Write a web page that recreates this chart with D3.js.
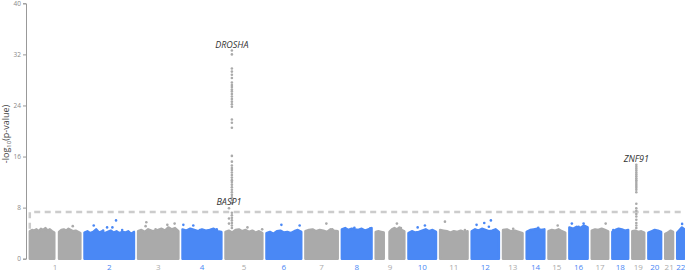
<!DOCTYPE html>
<html>
<head>
<meta charset="utf-8">
<script src="https://cdn.jsdelivr.net/npm/d3@7"></script>
<style>
  body { margin: 0; background: #fff; font-family: "Open Sans", sans-serif; }
</style>
</head>
<body>
<div id="chart"></div>
<script>
// chromosome extents (Mb)
const chrNames = ["1","2","3","4","5","6","7","8","9","10","11","12","13","14","15","16","17","18","19","20","21","22"];
const chrStart = [0.7, 0, 0, 0, 0, 0, 0, 0, 0.2, 0.1, 0.2, 0.1, 19, 20, 20, 0.1, 0, 0, 0.2, 0.1, 9.4, 16];
const chrEnd   = [249, 243, 198, 191, 181, 171, 159, 146, 141, 135.5, 135, 134, 115, 107, 102.5, 90, 81, 78, 59, 63, 48, 51];

// centromere gaps with no SNPs
const gapChr  = [1, 9];
const gapFrom = [121, 40];
const gapTo   = [144, 68];

// top of the dense point cloud, one list per segment (in order)
const bandTop = [
  [4.3,4.5,4.4,4.6,4.3,4.7,4.5,4.8,4.4,4.6,4.3,4.1],       // 1a
  [4.2,4.5,4.6,4.4,4.7,4.5,4.3,4.4,4.2,4.0],               // 1b
  [4.1,4.3,4.0,4.2,4.6,4.1,4.3,4.0,4.2,4.4,4.1,4.3,4.0,4.2,4.1,4.3,3.9,4.2], // 2
  [4.3,4.5,4.2,4.6,4.4,4.3,4.5,4.7,4.4,4.9,4.6,4.8,4.3],   // 3
  [4.6,4.4,4.7,4.5,4.3,4.6,4.4,4.5,4.7,4.3,4.2],           // 4
  [4.2,4.4,4.1,4.5,4.6,4.3,4.5,4.2,4.4,4.1,4.3,4.0],       // 5
  [4.0,4.2,3.9,4.3,4.4,4.1,4.2,4.0,4.3,4.5,4.2],           // 6
  [4.3,4.5,4.6,4.3,4.5,4.4,4.2,4.6,4.4,4.3],               // 7
  [4.6,4.8,4.5,4.7,4.6,4.5,4.7,4.4,4.6,4.8],               // 8
  [4.2,4.3,4.2,4.1],                                       // 9a
  [4.2,4.6,4.8,4.6,4.9,4.5,4.3],                           // 9b
  [4.0,4.3,4.1,4.2,4.4,4.6,4.3,4.5,4.2],                   // 10
  [4.5,4.4,4.3,4.1,4.3,4.2,4.4,4.2,4.3],                   // 11
  [4.3,4.6,4.4,4.7,4.5,4.3,4.4,4.6,4.2],                   // 12
  [4.5,4.6,4.3,4.4,4.2,4.0],                               // 13
  [4.2,4.5,4.6,4.7,4.5,4.6],                               // 14
  [4.3,4.5,4.4,4.6,4.3,4.1],                               // 15
  [4.9,4.7,5.0,4.8,5.2,4.9],                               // 16
  [4.4,4.6,4.5,4.7,4.5,4.3],                               // 17
  [4.2,4.5,4.7,4.6,4.4,4.5],                               // 18
  [4.3,4.4,4.2,4.3,4.1],                                   // 19
  [4.1,4.3,4.5,4.4,4.2],                                   // 20
  [3.9,4.1,4.4,4.2],                                       // 21
  [4.1,4.5,4.9,4.6]                                        // 22
];

// scattered points above the cloud
const ptChr = [1, 2,2,2,2,2,2, 3,3,3,3,3, 4,4,4,4, 5,5, 6,6, 7,7, 8,8, 9,9, 10,10, 11,11, 12,12,12,12, 13, 14, 15, 16,16,16,16, 17, 18, 22];
const ptPos = [211.5, 45.4,155,111,137,185,91.5, 40.5,37,143.6,179.4,86, 4.2,53,168,86, 107.8,180, 73.4,163, 103,132, 140,61.6, 104.5,124, 81,45.4, 24,122, 94.5,62,84.7,24.3, 69, 77, 65.4, 12.5,70,86,45.4, 68.5, 4.7, 40.3];
const ptVal = [5.1, 5.2,6.0,4.9,4.9,4.5,4.4, 5.7,5.1,5.3,5.5,4.6, 5.3,5.2,4.6,4.5, 4.9,4.6, 5.3,5.2, 5.5,4.6, 4.75,4.85, 5.5,4.8, 5.2,4.9, 5.8,4.5, 6.0,5.6,5.0,5.3, 4.7, 4.85, 5.2, 5.5,5.5,4.8,5.0, 5.5, 4.5, 5.45];

// association peaks
const droshaVals = [32.6,32.0,29.8,29.3,28.8,28.3,27.6,27.2,26.9,26.5,26.2,25.8,25.4,25.0,24.6,24.2,23.8,21.8,21.3,20.5,16.1,15.2,14.6,14.2,13.9,13.5,13.1,12.7,12.3,12.0,11.6,11.2,10.8,10.4,10.0,9.6,9.2,8.7,7.2,6.8,6.4,6.0,5.6,5.2,4.8];
const basp1Vals  = [7.9, 6.3, 5.5];
const znf91Vals  = [14.7,14.4,14.1,13.8,13.5,13.2,12.9,12.6,12.3,12.0,11.7,11.4,11.1,10.8,10.4,8.6,7.9,7.5,7.0,6.6,6.1,5.6,5.2,4.8];

const geneNames = ["DROSHA", "BASP1", "ZNF91"];
const geneChr   = [5, 5, 19];
const genePos   = [31.4, 17.2, 20];
const geneTop   = [32.6, 7.9, 14.7];

const threshold = 7.3;
const yTicks = [0, 8, 16, 24, 32, 40];

const GAP = 20;
const grey = "#aaaaaa", blue = "#4a88f5";
const colorOf = c => (c % 2 === 1 ? grey : blue);

// cumulative offsets
const offset = [];
let acc = 0;
chrNames.forEach((n, i) => {
  offset.push(acc - chrStart[i]);
  acc += chrEnd[i] - chrStart[i] + GAP;
});
const total = acc - GAP;
const gpos = (chr, pos) => offset[chr - 1] + pos;

const width = 685, height = 271;
const svg = d3.select("#chart").append("svg")
  .attr("width", width).attr("height", height);

const x = d3.scaleLinear().domain([0, total]).range([29.8, 684.3]);
const y = d3.scaleLinear().domain([0, 40]).range([258.7, 3.3]);

// segments
const segments = [];
chrNames.forEach((n, i) => {
  const c = i + 1;
  const g = gapChr.indexOf(c);
  if (g >= 0) {
    segments.push({chr: c, start: chrStart[i], end: gapFrom[g]});
    segments.push({chr: c, start: gapTo[g], end: chrEnd[i]});
  } else {
    segments.push({chr: c, start: chrStart[i], end: chrEnd[i]});
  }
});

const area = d3.area()
  .x(d => x(d.g))
  .y0(y(0))
  .y1(d => y(d.v));

segments.forEach((s, k) => {
  const top = bandTop[k];
  const pts = top.map((v, i) => ({
    g: gpos(s.chr, s.start + i * (s.end - s.start) / (top.length - 1)),
    v: v
  }));
  svg.append("path")
    .attr("d", area(pts))
    .attr("fill", colorOf(s.chr))
    .attr("stroke", colorOf(s.chr))
    .attr("stroke-width", 2.4)
    .attr("stroke-linejoin", "round");
});

// threshold line
const thr = [
  {g: gpos(1, chrStart[0]), v: 4.7},
  {g: gpos(1, chrStart[0]), v: threshold},
  {g: gpos(22, chrEnd[21]), v: threshold}
];
svg.append("path")
  .attr("d", d3.line().x(d => x(d.g)).y(d => y(d.v))(thr))
  .attr("fill", "none")
  .attr("stroke", "#cccccc")
  .attr("stroke-width", 2.5)
  .attr("stroke-dasharray", "6,4.5");

// points
const points = ptChr.map((c, i) => ({chr: c, pos: ptPos[i], v: ptVal[i]}))
  .concat(droshaVals.map(v => ({chr: 5, pos: 31.4, v})))
  .concat(basp1Vals.map(v => ({chr: 5, pos: 17.2, v})))
  .concat(znf91Vals.map(v => ({chr: 19, pos: 20, v})));

svg.selectAll("circle.pt")
  .data(points)
  .enter().append("circle")
  .attr("class", "pt")
  .attr("cx", d => x(gpos(d.chr, d.pos)))
  .attr("cy", d => y(d.v))
  .attr("r", 1.3)
  .attr("fill", d => colorOf(d.chr));

// y axis
const yAxis = svg.append("g")
  .attr("transform", "translate(26,0)")
  .call(d3.axisLeft(y).tickValues(yTicks).tickSize(3).tickPadding(2));
yAxis.select(".domain").attr("stroke", "#999");
yAxis.selectAll(".tick line").attr("stroke", "#999");
yAxis.selectAll(".tick text")
  .attr("fill", "#888")
  .style("font-size", "6.5px")
  .style("font-family", "Open Sans, sans-serif");

const yl = svg.append("text")
  .attr("transform", "translate(9,134) rotate(-90)")
  .attr("text-anchor", "middle")
  .attr("fill", "#444")
  .style("font-size", "9px");
yl.append("tspan").text("-log");
yl.append("tspan").attr("dy", 2).style("font-size", "6px").text("10");
yl.append("tspan").attr("dy", -2).text("(p-value)");

// chromosome labels
svg.selectAll("text.chr")
  .data(chrNames)
  .enter().append("text")
  .attr("class", "chr")
  .attr("x", (d, i) => x(gpos(i + 1, (chrStart[i] + chrEnd[i]) / 2)))
  .attr("y", 269.5)
  .attr("text-anchor", "middle")
  .attr("fill", (d, i) => colorOf(i + 1))
  .style("font-size", "8px")
  .text(d => d);

// gene labels
svg.selectAll("text.gene")
  .data(geneNames)
  .enter().append("text")
  .attr("class", "gene")
  .attr("x", (d, i) => x(gpos(geneChr[i], genePos[i])))
  .attr("y", (d, i) => y(geneTop[i]) - 3)
  .attr("text-anchor", "middle")
  .attr("fill", "#333")
  .style("font-size", "9px")
  .style("font-style", "italic")
  .text(d => d);
</script>
</body>
</html>
